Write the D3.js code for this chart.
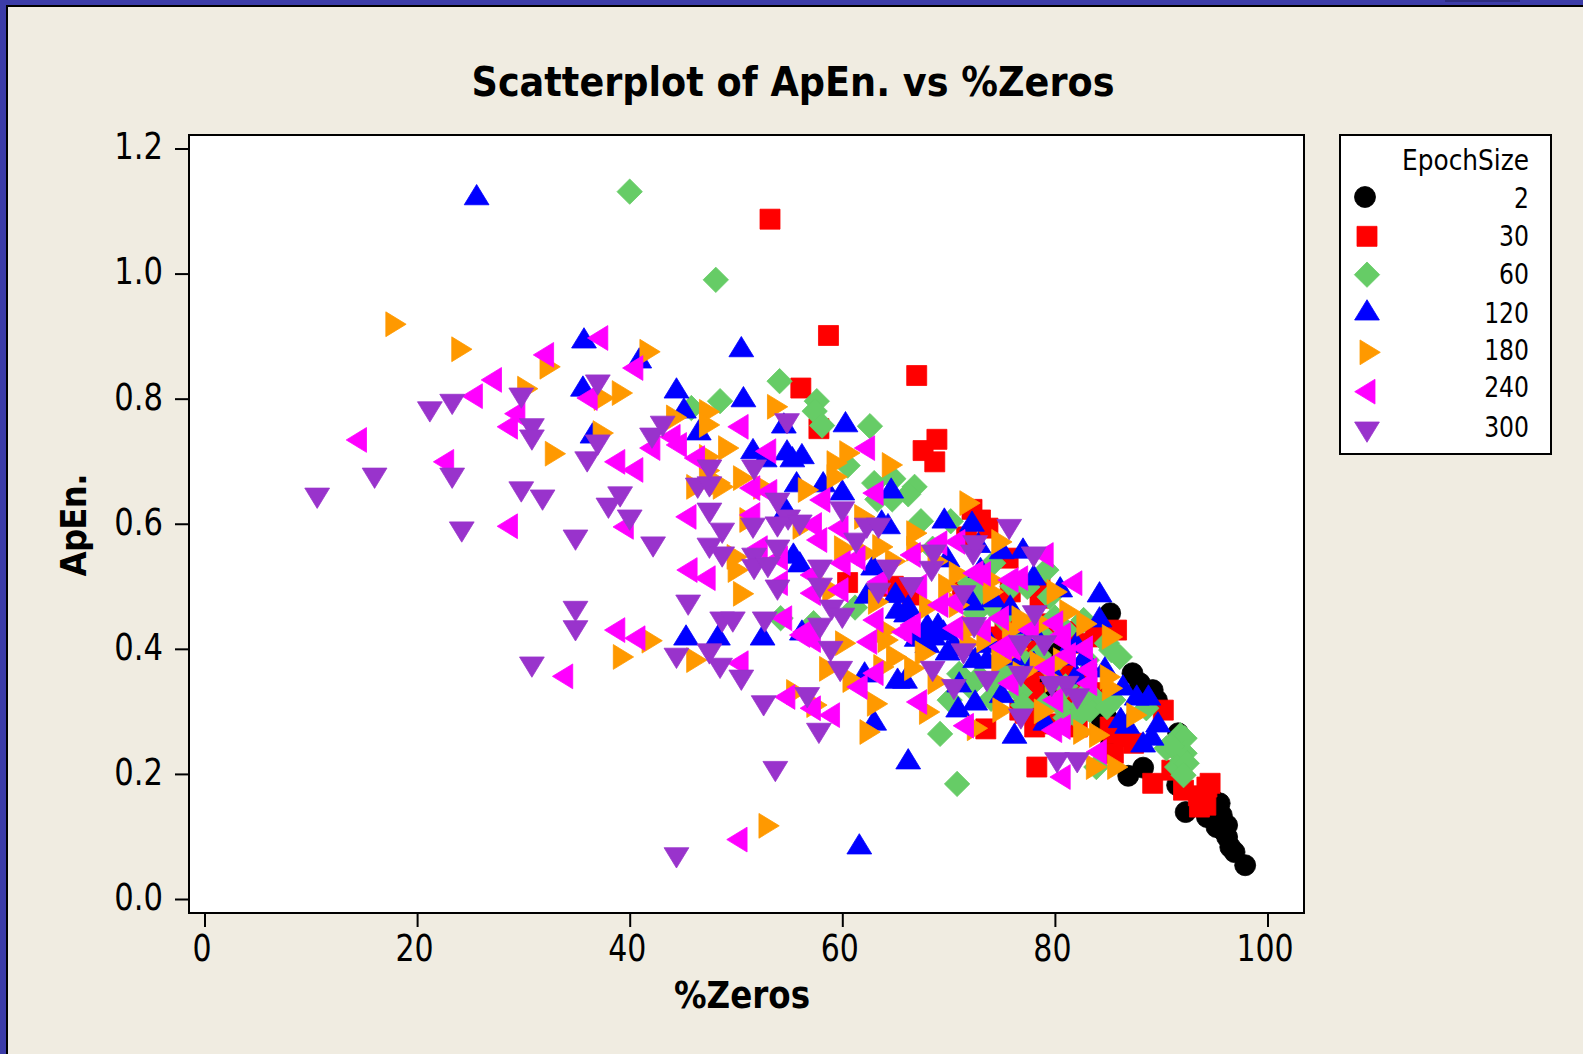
<!DOCTYPE html>
<html><head><meta charset="utf-8">
<script src="https://cdn.jsdelivr.net/npm/d3@7/dist/d3.min.js"></script>
<style>html,body{margin:0;padding:0;background:#f0ece1;overflow:hidden}
text{font-family:"DejaVu Sans";font-stretch:condensed;fill:#000}</style></head>
<body><svg id="c" width="1583" height="1054"></svg>
<script>
const titleText="Scatterplot of ApEn. vs %Zeros", xTitle="%Zeros", yTitle="ApEn.", legendTitle="EpochSize";
const epochSizes=["2","30","60","120","180","240","300"];
const colors=["#000000","#ff0000","#66cc66","#0000ff","#ff9900","#ff00ff","#9933cc"];
const xTicks=[0,20,40,60,80,100], yTicks=[0,.2,.4,.6,.8,1,1.2];
const epoch2=[[97.9,.054],[96.9,.075],[96.5,.083],[96.2,.099],[95.8,.11],[95.2,.115],[96.2,.118],[95.7,.134],[94.9,.131],[94.3,.131],[94.9,.158],[95.5,.153],[92.3,.139],[91.5,.182],[86.9,.197],[88.3,.21],[87.3,.361],[88,.345],[89.2,.334],[89.6,.318],[91.6,.265],[84.9,.289],[85.3,.25],[77.5,.307],[79.8,.342],[80.2,.398],[85.2,.457],[80.5,.398],[79.2,.339],[84.4,.286]];
const epoch30=[[53.2,1.087],[58.7,.901],[56.1,.817],[67,.837],[68.9,.735],[67.6,.717],[68.7,.699],[57.8,.752],[60.5,.506],[64.8,.5],[73.5,.272],[78.3,.211],[89.2,.185],[72.2,.623],[73,.606],[73.7,.593],[71.7,.579],[75.6,.545],[66.6,.486],[71.3,.491],[78.6,.497],[78.6,.481],[75.8,.491],[75.2,.47],[85.8,.43],[83.8,.419],[81.6,.428],[82.4,.409],[74.4,.419],[75.8,.409],[78.3,.398],[77.6,.355],[82.1,.323],[90.2,.302],[77.2,.297],[78.1,.275],[85.5,.265],[87.4,.249],[85.5,.233],[85.2,.275],[94.3,.179],[94.6,.185],[93.6,.147],[92.1,.174],[94,.163],[91,.206],[91.5,.243],[82.7,.323],[81.1,.318],[76.7,.302],[75.3,.425],[76.4,.366],[82.1,.275],[86.5,.26],[93.5,.165],[94.2,.15],[79,.44],[81,.36],[84,.33],[80,.28],[78,.33],[76,.44],[77,.4],[79,.37],[83,.35]];
const epoch60=[[40,1.131],[48.1,.99],[54.1,.828],[57.6,.796],[57.4,.78],[58.1,.757],[62.6,.756],[48.5,.796],[60.5,.693],[70.8,.184],[69.2,.264],[61.2,.466],[63,.665],[64.8,.672],[66.8,.659],[66.2,.647],[63.3,.639],[64.7,.639],[67.4,.604],[70.2,.604],[45.8,.785],[54.2,.449],[57.3,.441],[74.2,.537],[72,.505],[77.4,.499],[79.2,.526],[79.5,.483],[82.7,.446],[72.5,.457],[78,.435],[79.1,.417],[84.9,.409],[86.1,.387],[85.3,.398],[83,.382],[72.9,.355],[76.7,.33],[70.1,.318],[75.8,.366],[77,.382],[83.9,.318],[85.5,.318],[82.4,.307],[83.3,.302],[82.1,.291],[84.9,.307],[88.6,.305],[91.8,.262],[92.2,.257],[92.2,.233],[90.5,.241],[92,.222],[91.5,.211],[92.4,.217],[92.1,.198],[91,.245],[83.9,.211],[80.5,.31],[74.5,.35],[68.5,.56],[75,.45],[77,.42],[78.5,.39],[79.5,.37],[81,.34],[83,.33],[81,.29],[79,.31],[77,.31],[74,.32],[72,.34],[71,.36],[80,.45],[81,.43],[76,.5],[74,.47],[73,.49]];
const epoch120=[[25.6,1.126],[35.7,.897],[35.6,.82],[36.5,.745],[40.9,.865],[44.4,.817],[45.1,.785],[46.5,.75],[50.5,.883],[50.7,.803],[51.6,.72],[52.7,.707],[54.5,.761],[54.8,.718],[56.2,.712],[55.3,.707],[55.7,.667],[58.2,.667],[60,.654],[60.3,.763],[64.6,.657],[69.6,.609],[54.7,.625],[63.7,.606],[64.3,.6],[55.4,.553],[56,.539],[62.9,.534],[62.3,.489],[65.2,.465],[66.2,.47],[66,.459],[45.3,.422],[48.3,.422],[52.5,.422],[56.2,.43],[62.1,.363],[65.2,.353],[65.9,.353],[63,.286],[66.2,.224],[67.5,.425],[68.6,.422],[69,.441],[69.9,.398],[71,.347],[72.5,.318],[70.9,.307],[73.6,.385],[72.5,.386],[76.2,.265],[75,.33],[79.1,.286],[61.6,.088],[72.2,.604],[72.8,.57],[69.9,.547],[77,.561],[78,.518],[80.5,.499],[84.2,.491],[84.2,.451],[75.8,.47],[74.2,.483],[72.2,.478],[80.8,.39],[82.8,.39],[83.2,.375],[84.7,.371],[86.4,.342],[87.7,.326],[88.8,.326],[86.2,.29],[86.8,.281],[89.1,.262],[88.3,.251],[89.7,.283],[71.5,.405],[68,.43],[67,.42],[82,.41],[67,.43],[68,.44],[69.5,.43],[68,.41],[70.5,.41],[78,.38],[80,.36],[82,.36],[77,.44],[76,.39],[74,.41],[78,.43],[75,.56],[73,.53],[65,.49]];
const epoch180=[[18,.919],[24.2,.879],[30.4,.816],[32.5,.851],[33,.712],[41.9,.875],[39.3,.809],[37.6,.801],[37.5,.745],[44.4,.77],[47.5,.779],[47.5,.758],[53.9,.787],[49.3,.721],[47.5,.707],[59.5,.697],[60.7,.713],[59.5,.675],[64.7,.694],[56.8,.654],[50.7,.673],[46.3,.659],[48.8,.659],[52.6,.659],[51.3,.606],[62.1,.611],[67,.585],[50.1,.547],[50.2,.526],[50.7,.488],[56.3,.595],[60.2,.561],[62.3,.553],[63.8,.563],[63.4,.475],[59.1,.494],[42.1,.413],[39.4,.387],[46.3,.382],[60.3,.409],[58.8,.368],[61,.35],[64.3,.414],[65.1,.387],[63.9,.371],[66.8,.369],[67.8,.393],[69,.347],[55.7,.331],[57.6,.31],[63.3,.312],[62.6,.267],[68.2,.299],[72.7,.273],[72,.409],[73.6,.414],[75.1,.302],[78.6,.377],[80.8,.382],[85.2,.355],[85.4,.337],[87.7,.294],[82.7,.267],[84.2,.262],[83.9,.211],[85.9,.211],[85.4,.419],[72.3,.433],[77,.441],[72,.633],[75,.571],[74.2,.51],[74.2,.491],[68.2,.467],[76.9,.449],[80.2,.491],[81.4,.459],[64.2,.43],[53.1,.117],[47.5,.685],[48.5,.665],[79,.44],[76.5,.4],[77,.36],[75,.38],[79,.3],[83,.44],[80,.35],[71,.47],[76,.43],[70,.5],[71,.52],[67,.56],[69,.54],[65,.54]];
const epoch240=[[14.3,.734],[22.5,.699],[25.2,.804],[27,.83],[31.9,.87],[37,.897],[36,.801],[40.3,.849],[29.2,.776],[28.5,.755],[41.9,.721],[38.6,.699],[40.3,.686],[28.5,.596],[39.4,.595],[43.8,.739],[44.4,.726],[46.1,.705],[45.3,.611],[45.4,.526],[47.1,.513],[50.2,.755],[52.8,.716],[51.3,.614],[51.3,.657],[52.9,.651],[57.9,.638],[62.1,.721],[62.9,.649],[57.1,.598],[59.6,.593],[57.6,.574],[61.2,.545],[59.8,.537],[53.9,.545],[52,.561],[53.9,.505],[57,.518],[57,.489],[59.6,.494],[63.3,.507],[62.9,.446],[38.6,.43],[40.5,.417],[54.3,.449],[56.3,.427],[50.2,.377],[54.6,.323],[57,.305],[58.8,.294],[61.4,.339],[62.9,.361],[56.7,.419],[56,.422],[57,.414],[62.3,.411],[65.6,.427],[66.4,.438],[70.4,.433],[67,.315],[71.4,.277],[75,.401],[75.8,.401],[75.6,.345],[79.7,.27],[80.5,.275],[80.5,.195],[83.9,.235],[83,.366],[83,.345],[79.8,.318],[82.6,.401],[80.5,.414],[79.8,.441],[78.9,.55],[81.6,.505],[75.6,.51],[76.5,.513],[72.3,.521],[70.6,.571],[68.9,.569],[66.4,.55],[70.4,.475],[74.7,.449],[74.8,.403],[80.5,.422],[50.1,.095],[33.7,.356],[77.5,.43],[79,.37],[81,.39],[73,.43],[73,.52],[69,.47],[67,.5]];
const epoch300=[[10.6,.641],[16,.673],[21.2,.779],[23.3,.791],[23.3,.673],[24.2,.587],[29.8,.651],[31.8,.638],[34.9,.574],[34.9,.46],[34.9,.429],[30.8,.371],[29.8,.801],[30.8,.752],[30.8,.734],[36,.699],[37,.726],[37,.822],[38,.625],[39.1,.643],[40,.606],[42.2,.563],[42.1,.737],[43.1,.756],[45.5,.47],[44.4,.066],[44.4,.385],[47.5,.392],[48.5,.369],[50.5,.35],[48.7,.443],[49.7,.443],[52.7,.443],[52.6,.309],[53.7,.204],[57.8,.265],[56.7,.322],[47.5,.617],[48.7,.585],[47.5,.561],[48.7,.547],[46.4,.657],[47.5,.659],[47.5,.686],[54.8,.76],[51.7,.686],[53.9,.633],[54.9,.606],[53.9,.595],[56,.598],[51.6,.593],[53.9,.558],[51.7,.545],[51.7,.527],[53,.53],[53.9,.494],[57.9,.526],[57.9,.497],[60,.619],[62.3,.593],[63.4,.593],[61.3,.569],[64.4,.526],[59,.462],[60,.449],[57.9,.433],[58.9,.396],[59.8,.364],[63.4,.489],[68.4,.524],[66.5,.498],[71.4,.485],[68.5,.364],[72.4,.434],[70.5,.335],[68.6,.55],[72.3,.55],[75.7,.591],[78.1,.453],[78,.547],[71.4,.392],[73.6,.348],[76.8,.405],[76.8,.356],[76.8,.288],[80.2,.218],[82.1,.218],[79,.405],[79.7,.34],[81.1,.34],[82.1,.32],[72.5,.565]];
const allSeries=[epoch2,epoch30,epoch60,epoch120,epoch180,epoch240,epoch300];

const svg=d3.select("#c");
const x=d3.scaleLinear().domain([0,100]).range([204.5,1267.5]);
const y=d3.scaleLinear().domain([0,1.2]).range([899,148.5]);
const shapes=[
 c=>{c.arc(0,0,10.5,0,2*Math.PI)},
 c=>{c.rect(-10,-10,20,20)},
 c=>{c.moveTo(0,-12.7);c.lineTo(12.7,0);c.lineTo(0,12.7);c.lineTo(-12.7,0);c.closePath()},
 c=>{c.moveTo(0,-10.3);c.lineTo(12.4,10);c.lineTo(-12.4,10);c.closePath()},
 c=>{c.moveTo(-10,-12.4);c.lineTo(10.3,0);c.lineTo(-10,12.4);c.closePath()},
 c=>{c.moveTo(10,-12.4);c.lineTo(10,12.4);c.lineTo(-10.3,0);c.closePath()},
 c=>{c.moveTo(-12.4,-10);c.lineTo(12.4,-10);c.lineTo(0,10.3);c.closePath()}
];
const pathOf=i=>{const p=d3.path();shapes[i](p);return p.toString()};
const squeeze=(sel,f)=>sel.each(function(){this.setAttribute("textLength",this.getComputedTextLength()*f);this.setAttribute("lengthAdjust","spacingAndGlyphs")});

// window frame
svg.append("rect").attr("width",1583).attr("height",5).attr("fill","#3c3ca8");
svg.append("rect").attr("width",6).attr("height",1054).attr("fill","#3c3ca8");
svg.append("rect").attr("x",1445).attr("y",0).attr("width",75).attr("height",2).attr("fill","#2c2c80");
svg.append("rect").attr("x",6).attr("y",5).attr("width",1577).attr("height",2).attr("fill","#000");
svg.append("rect").attr("x",6).attr("y",5).attr("width",2).attr("height",1049).attr("fill","#000");

// plot frame
svg.append("rect").attr("x",189).attr("y",135).attr("width",1115).attr("height",778).attr("fill","#fff");

const plot=svg.append("g");
allSeries.forEach((s,i)=>{
 plot.append("g").selectAll("path").data(s).join("path")
  .attr("d",pathOf(i)).attr("transform",d=>`translate(${x(d[0])},${y(d[1])})`)
  .attr("fill",colors[i]).attr("stroke",colors[i]).attr("stroke-width",.8).attr("stroke-linejoin","round");
});
svg.append("rect").attr("x",189).attr("y",135).attr("width",1115).attr("height",778).attr("fill","none").attr("stroke","#000").attr("stroke-width",2);

// axes
const ax=svg.append("g").attr("transform","translate(0,913)").call(d3.axisBottom(x).tickValues(xTicks).tickSize(14).tickPadding(4).tickFormat(d3.format("d")));
const ay=svg.append("g").attr("transform","translate(189,0)").call(d3.axisLeft(y).tickValues(yTicks).tickSize(14).tickPadding(12).tickFormat(d3.format(".1f")));
[ax,ay].forEach(a=>{a.select(".domain").remove();a.selectAll("line").attr("stroke","#000").attr("stroke-width",2);
 a.selectAll("text").attr("font-size",37).style("font-family",'"DejaVu Sans"').style("font-stretch","condensed")});
ax.selectAll("text").attr("dx",-3).attr("y",22).attr("dy","0.71em");
ay.selectAll("text").attr("dy","0.28em");
squeeze(ax.selectAll("text"),.9);squeeze(ay.selectAll("text"),.92);

// titles
svg.append("text").attr("x",793).attr("y",96).attr("text-anchor","middle").attr("font-size",41).attr("font-weight","bold")
 .attr("textLength",643).attr("lengthAdjust","spacingAndGlyphs").text(titleText);
svg.append("text").attr("x",742).attr("y",1008).attr("text-anchor","middle").attr("font-size",37).attr("font-weight","bold")
 .attr("textLength",136).attr("lengthAdjust","spacingAndGlyphs").text(xTitle);
svg.append("text").attr("transform","translate(86,525) rotate(-90)").attr("text-anchor","middle").attr("font-size",36).attr("font-weight","bold")
 .attr("textLength",103).attr("lengthAdjust","spacing").text(yTitle);

// legend
svg.append("rect").attr("x",1340).attr("y",135).attr("width",211).attr("height",319).attr("fill","#fff").attr("stroke","#000").attr("stroke-width",2);
const legY=d3.scalePoint().domain(epochSizes).range([197,427]);
const legDx=[-2,0,0,0,3,-2,0], legDy=[0,1,1,-2,2,3,5], txtDy=[0,0,0,0,-1,-2,-1];
svg.append("text").attr("x",1529).attr("y",170).attr("text-anchor","end").attr("font-size",29).attr("textLength",127).attr("lengthAdjust","spacingAndGlyphs").text(legendTitle);
const leg=svg.append("g").selectAll("g").data(epochSizes).join("g");
leg.append("path").attr("d",(d,i)=>pathOf(i)).attr("transform",(d,i)=>`translate(${1367+legDx[i]},${legY(d)+legDy[i]})`)
 .attr("fill",(d,i)=>colors[i]).attr("stroke",(d,i)=>colors[i]).attr("stroke-width",.8).attr("stroke-linejoin","round");
const legText=leg.append("text").attr("x",1529).attr("y",(d,i)=>legY(d)+10.5+txtDy[i]).attr("text-anchor","end").attr("font-size",29).text(d=>d);
squeeze(legText,.9);
</script></body></html>
